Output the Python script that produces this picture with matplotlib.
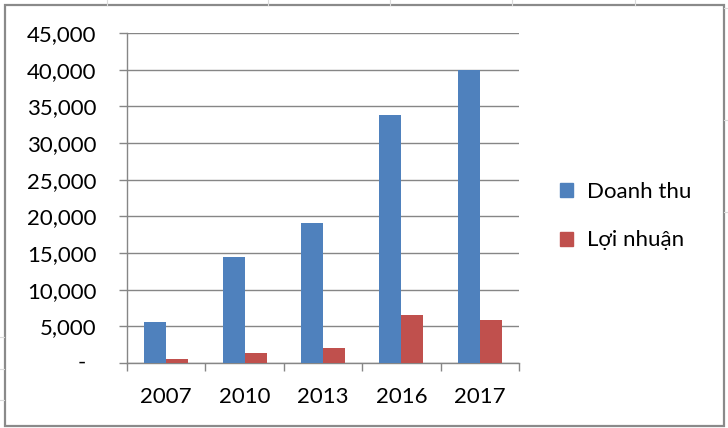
import matplotlib
matplotlib.use("Agg")
import matplotlib.pyplot as plt
import numpy as np
from matplotlib.patches import Rectangle
from matplotlib.lines import Line2D
from matplotlib.ticker import FuncFormatter
from matplotlib.transforms import blended_transform_factory

years = ["2007", "2010", "2013", "2016", "2017"]
doanh_thu = [5600, 14500, 19100, 33800, 40000]
loi_nhuan = [600, 1300, 2000, 6600, 5900]
series_names = ["Doanh thu", "Lợi nhuận"]
colors = ["#4F81BD", "#C0504D"]

plt.rcParams['font.family'] = ['Lato', 'DejaVu Sans']
FS = 16

W, H = 728, 428
fig = plt.figure(figsize=(W / 100, H / 100), dpi=100)
fig.patch.set_facecolor("white")

# faint spreadsheet grid outside the chart frame
for xv in [107, 268, 390, 512, 635]:
    fig.add_artist(Line2D([xv / W, xv / W], [1 - 5 / H, 1], color="#dadada", lw=0.8))
for yv in [337, 369, 400]:
    fig.add_artist(Line2D([0, 4 / W], [1 - yv / H, 1 - yv / H], color="#dadada", lw=0.8))
for yv in [8, 120, 212]:
    fig.add_artist(Line2D([724 / W, 1], [1 - yv / H, 1 - yv / H], color="#dadada", lw=0.8))

# chart frame
fig.add_artist(Rectangle((4.5 / W, 1 - 426 / H), 719 / W, 421 / H, transform=fig.transFigure,
                         fill=False, edgecolor="#8a8a8a", lw=1.6))

ax = fig.add_axes([127 / W, 1 - 363 / H, (519 - 127) / W, (363 - 33) / H])
x = np.arange(len(years))
bw = 0.28
ax.bar(x - bw / 2, doanh_thu, bw, color=colors[0], label=series_names[0], zorder=3)
ax.bar(x + bw / 2, loi_nhuan, bw, color=colors[1], label=series_names[1], zorder=3)

ax.set_xlim(-0.5, len(years) - 0.5)
ax.set_ylim(0, 45000)
ax.set_yticks(np.arange(0, 45001, 5000))
ax.yaxis.set_major_formatter(FuncFormatter(lambda v, p: "" if v == 0 else f"{int(v):,}"))
ax.yaxis.grid(True, color="#868686", lw=1.0, zorder=0)
ax.set_axisbelow(True)
# accounting-style zero label
ax.text(-0.105, 0, "-", transform=blended_transform_factory(ax.transAxes, ax.transData),
        ha="right", va="center", fontsize=FS)

ax.set_xticks(x)
ax.set_xticklabels(years)
ax.set_xticks(np.arange(-0.5, len(years)), minor=True)
ax.tick_params(axis="x", which="major", length=0, pad=17, labelsize=FS)
ax.tick_params(axis="x", which="minor", length=5.8, color="#868686", width=1.0)
ax.tick_params(axis="y", length=5.8, color="#868686", width=1.0, pad=16, labelsize=FS)

for s in ["top", "right"]:
    ax.spines[s].set_visible(False)
for s in ["left", "bottom"]:
    ax.spines[s].set_color("#868686")
    ax.spines[s].set_linewidth(1.0)

handles = [Rectangle((0, 0), 1, 1, color=c) for c in colors]
fig.legend(handles, series_names, loc="center left", bbox_to_anchor=(560 / W, 1 - 216 / H),
           frameon=False, fontsize=FS, handlelength=0.6, handleheight=0.6,
           handletextpad=0.62, labelspacing=1.3, borderpad=0, borderaxespad=0)

fig.savefig("out.png", dpi=100)
